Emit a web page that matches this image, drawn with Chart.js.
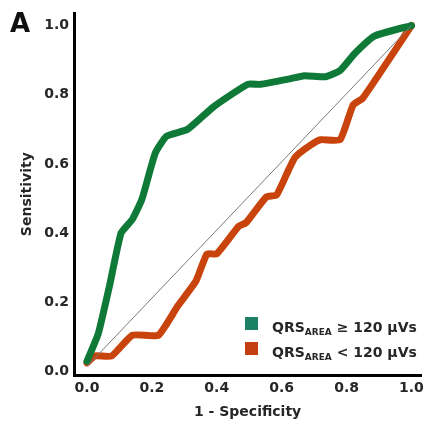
<!DOCTYPE html>
<html>
<head>
<meta charset="utf-8">
<script src="https://cdn.jsdelivr.net/npm/chart.js@4.4.1/dist/chart.umd.min.js"></script>
<style>
  html, body { margin: 0; padding: 0; background: #fff; }
  #wrap { width: 429px; height: 425px; }
</style>
</head>
<body>
<div id="wrap"><canvas id="roc" width="429" height="425"></canvas></div>
<script>
// ROC data (x = 1 - specificity, y = sensitivity)
const highX = [0, 0.035, 0.07, 0.105, 0.14, 0.17, 0.21, 0.245, 0.31, 0.39, 0.495, 0.535, 0.62, 0.67, 0.735, 0.78, 0.826, 0.887, 1.0];
const highY = [0.03, 0.11, 0.25, 0.40, 0.44, 0.50, 0.63, 0.68, 0.70, 0.765, 0.83, 0.83, 0.845, 0.855, 0.852, 0.87, 0.92, 0.97, 1.0];

const lowX = [0, 0.025, 0.076, 0.14, 0.22, 0.28, 0.335, 0.37, 0.40, 0.468, 0.49, 0.553, 0.584, 0.62, 0.642, 0.69, 0.72, 0.78, 0.82, 0.85, 1.0];
const lowY = [0.025, 0.045, 0.045, 0.105, 0.105, 0.19, 0.26, 0.34, 0.34, 0.42, 0.43, 0.505, 0.51, 0.58, 0.62, 0.655, 0.67, 0.67, 0.77, 0.79, 1.0];

const refX = [0, 1];
const refY = [0.015, 1];

const tickValues = [0, 0.2, 0.4, 0.6, 0.8, 1.0];

const seriesNames = ['≥ 120 μVs', '< 120 μVs'];
const legendColors = ['#1c8066', '#c43f12'];

const FONT = "'DejaVu Sans', sans-serif";
const TEXT = '#262626';

function toPoints(xs, ys) {
  return xs.map((x, i) => ({ x: x, y: ys[i] }));
}

// Panel letter and custom legend (subscript text)
const extrasPlugin = {
  id: 'extras',
  afterDraw(chart) {
    const ctx = chart.ctx;
    ctx.save();
    ctx.fillStyle = '#111';
    ctx.font = 'bold 26px ' + FONT;
    ctx.textBaseline = 'alphabetic';
    ctx.fillText('A', 10, 32);

    const rows = [332, 357];
    rows.forEach((base, i) => {
      ctx.fillStyle = legendColors[i];
      ctx.fillRect(245, base - 15, 13, 13);
      ctx.fillStyle = TEXT;
      let x = 272;
      ctx.font = 'bold 14px ' + FONT;
      ctx.fillText('QRS', x, base);
      x += ctx.measureText('QRS').width;
      ctx.font = 'bold 9px ' + FONT;
      ctx.fillText('AREA', x, base + 3);
      x += ctx.measureText('AREA').width;
      ctx.font = 'bold 14px ' + FONT;
      ctx.fillText(' ' + seriesNames[i], x, base);
    });
    ctx.restore();
  }
};

new Chart(document.getElementById('roc'), {
  type: 'line',
  data: {
    datasets: [
      {
        label: 'reference',
        data: toPoints(refX, refY),
        borderColor: '#7a7a7a',
        borderWidth: 1,
        pointRadius: 0,
        fill: false
      },
      {
        label: 'QRSAREA ≥ 120 μVs',
        data: toPoints(highX, highY),
        borderColor: '#0f7a38',
        borderWidth: 7,
        pointRadius: 0,
        tension: 0.15,
        borderJoinStyle: 'round',
        borderCapStyle: 'round',
        fill: false
      },
      {
        label: 'QRSAREA < 120 μVs',
        data: toPoints(lowX, lowY),
        borderColor: '#c9440c',
        borderWidth: 7,
        pointRadius: 0,
        tension: 0.15,
        borderJoinStyle: 'round',
        borderCapStyle: 'round',
        fill: false
      }
    ]
  },
  options: {
    responsive: false,
    animation: false,
    layout: { padding: { left: 0, top: 10, right: 5, bottom: 0 } },
    plugins: {
      legend: { display: false },
      tooltip: { enabled: false }
    },
    scales: {
      x: {
        type: 'linear',
        min: -0.04,
        max: 1.03,
        afterBuildTicks: (scale) => { scale.ticks = tickValues.map(v => ({ value: v })); },
        afterFit: (scale) => { scale.height = 50; },
        grid: { display: false, drawTicks: false },
        border: { display: true, color: '#000', width: 3 },
        ticks: {
          padding: 5,
          maxRotation: 0,
          autoSkip: false,
          color: TEXT,
          font: { family: FONT, size: 14, weight: 'bold' },
          callback: (v) => Number(v).toFixed(1)
        },
        title: {
          display: true,
          text: '1 - Specificity',
          color: TEXT,
          font: { family: FONT, size: 14, weight: 'bold' },
          padding: { top: 0, bottom: 4 }
        }
      },
      y: {
        type: 'linear',
        min: -0.01,
        max: 1.035,
        afterBuildTicks: (scale) => { scale.ticks = tickValues.map(v => ({ value: v })); },
        afterFit: (scale) => { scale.width = 74; },
        grid: { display: false, drawTicks: false },
        border: { display: true, color: '#000', width: 3 },
        ticks: {
          padding: 5,
          autoSkip: false,
          color: TEXT,
          font: { family: FONT, size: 14, weight: 'bold' },
          callback: (v) => Number(v).toFixed(1)
        },
        title: {
          display: true,
          text: 'Sensitivity',
          color: TEXT,
          font: { family: FONT, size: 14, weight: 'bold' },
          padding: { top: 19, bottom: 0 }
        }
      }
    }
  },
  plugins: [extrasPlugin]
});
</script>
</body>
</html>
